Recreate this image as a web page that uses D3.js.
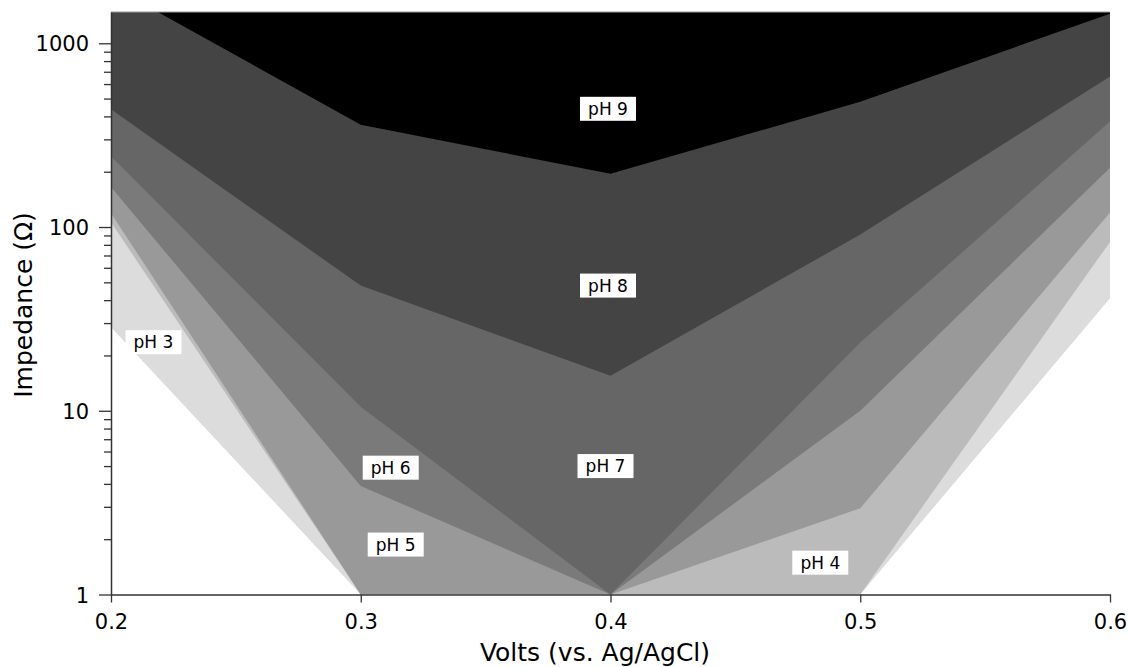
<!DOCTYPE html>
<html>
<head>
<meta charset="utf-8">
<script src="https://cdn.jsdelivr.net/npm/d3@7"></script>
<style>
body { margin: 0; background: #fff; }
svg { display: block; }
</style>
</head>
<body>
<svg></svg>
<script>
// x values (Volts vs. Ag/AgCl)
const volts = [0.2, 0.3, 0.4, 0.5, 0.6]

// lower edge of each pH band, impedance in ohm, one value per volt
const ph3 = [28.5, 1, 1, 1, 41]
const ph4 = [106, 1, 1, 1, 83]
const ph5 = [119, 1, 1, 2.95, 120]
const ph6 = [165, 3.9, 1, 10, 210]
const ph7 = [243, 10.5, 1, 23.5, 375]
const ph8 = [437, 48, 15.5, 91, 660]
const ph9 = [2050, 360, 195, 480, 1450]

const phNames = ['pH 3', 'pH 4', 'pH 5', 'pH 6', 'pH 7', 'pH 8', 'pH 9']
const phColors = ['#dcdcdc', '#bbbbbb', '#999999', '#7a7a7a', '#666666', '#444444', '#000000']

// where the band labels sit (volts, ohm)
const labelVolts = [0.217, 0.484, 0.314, 0.312, 0.398, 0.399, 0.399]
const labelOhms = [23.6, 1.49, 1.87, 4.9, 5.0, 48, 440]

const xTicks = [0.2, 0.3, 0.4, 0.5, 0.6]
const yTicks = [1, 10, 100, 1000]

const bands = [ph3, ph4, ph5, ph6, ph7, ph8, ph9]

const width = 1128
const height = 667
let marge = {top: 12, bottom: 72.5, left: 111, right: 18}
const w = width - marge.left - marge.right
const h = height - marge.top - marge.bottom

const svg = d3.select('svg').attr('width', width).attr('height', height)
let g = svg.append('g')
    .attr('transform', 'translate(' + marge.left + ',' + marge.top + ')')

const x = d3.scaleLinear().domain([0.2, 0.6]).range([0, w])
const y = d3.scaleLog().domain([1, 1480]).range([h, 0])

svg.append('defs').append('clipPath').attr('id', 'plot')
    .append('rect').attr('width', w).attr('height', h)

// each band is filled from its lower edge up to the top, darker ones on top
const area = d3.area()
    .x(function (d, i) { return x(volts[i]) })
    .y0(0)
    .y1(function (d) { return y(d) })

g.append('g').attr('clip-path', 'url(#plot)')
    .selectAll('path').data(bands).enter().append('path')
    .attr('d', area)
    .attr('fill', function (d, i) { return phColors[i] })

// top frame line
g.append('line').attr('x1', 0).attr('x2', w).attr('y1', 0).attr('y2', 0)
    .attr('stroke', '#999').attr('stroke-width', 1)

// y axis, major and minor ticks
const yAxis = g.append('g').call(d3.axisLeft(y).tickValues(yTicks).tickSize(12).tickSizeOuter(0)
    .tickPadding(10).tickFormat(d3.format('d')))
g.append('g').call(d3.axisLeft(y).tickValues(y.ticks().filter(function (d) { return yTicks.indexOf(d) < 0 }))
    .tickSize(7).tickFormat(''))
    .select('.domain').remove()

const xAxis = g.append('g').attr('transform', 'translate(0,' + h + ')')
    .call(d3.axisBottom(x).tickValues(xTicks).tickSize(8).tickSizeOuter(0)
        .tickPadding(12).tickFormat(d3.format('.1f')))

g.selectAll('.domain').attr('stroke', '#333').attr('stroke-width', 1.5)
g.selectAll('.tick line').attr('stroke', '#333').attr('stroke-width', 1.3)
g.selectAll('.tick text').attr('font-family', 'DejaVu Sans').attr('font-size', 21).attr('fill', '#000')
yAxis.selectAll('.tick text').attr('dy', '0.36em')

// axis titles
svg.append('text')
    .attr('x', 595).attr('y', 661)
    .attr('text-anchor', 'middle')
    .attr('font-family', 'DejaVu Sans').attr('font-size', 25)
    .text('Volts (vs. Ag/AgCl)')

svg.append('text')
    .attr('transform', 'translate(32,305) rotate(-90)')
    .attr('text-anchor', 'middle')
    .attr('font-family', 'DejaVu Sans').attr('font-size', 25)
    .text('Impedance (Ω)')

// band labels on white boxes
let labels = g.append('g').selectAll('g').data(phNames).enter().append('g')
    .attr('transform', function (d, i) {
        return 'translate(' + x(labelVolts[i]) + ',' + y(labelOhms[i]) + ')'
    })
labels.append('rect').attr('x', -28).attr('y', -12).attr('width', 56).attr('height', 24).attr('fill', '#fff')
labels.append('text')
    .attr('text-anchor', 'middle').attr('dy', '0.36em')
    .attr('font-family', 'DejaVu Sans').attr('font-size', 17)
    .text(function (d) { return d })
</script>
</body>
</html>
